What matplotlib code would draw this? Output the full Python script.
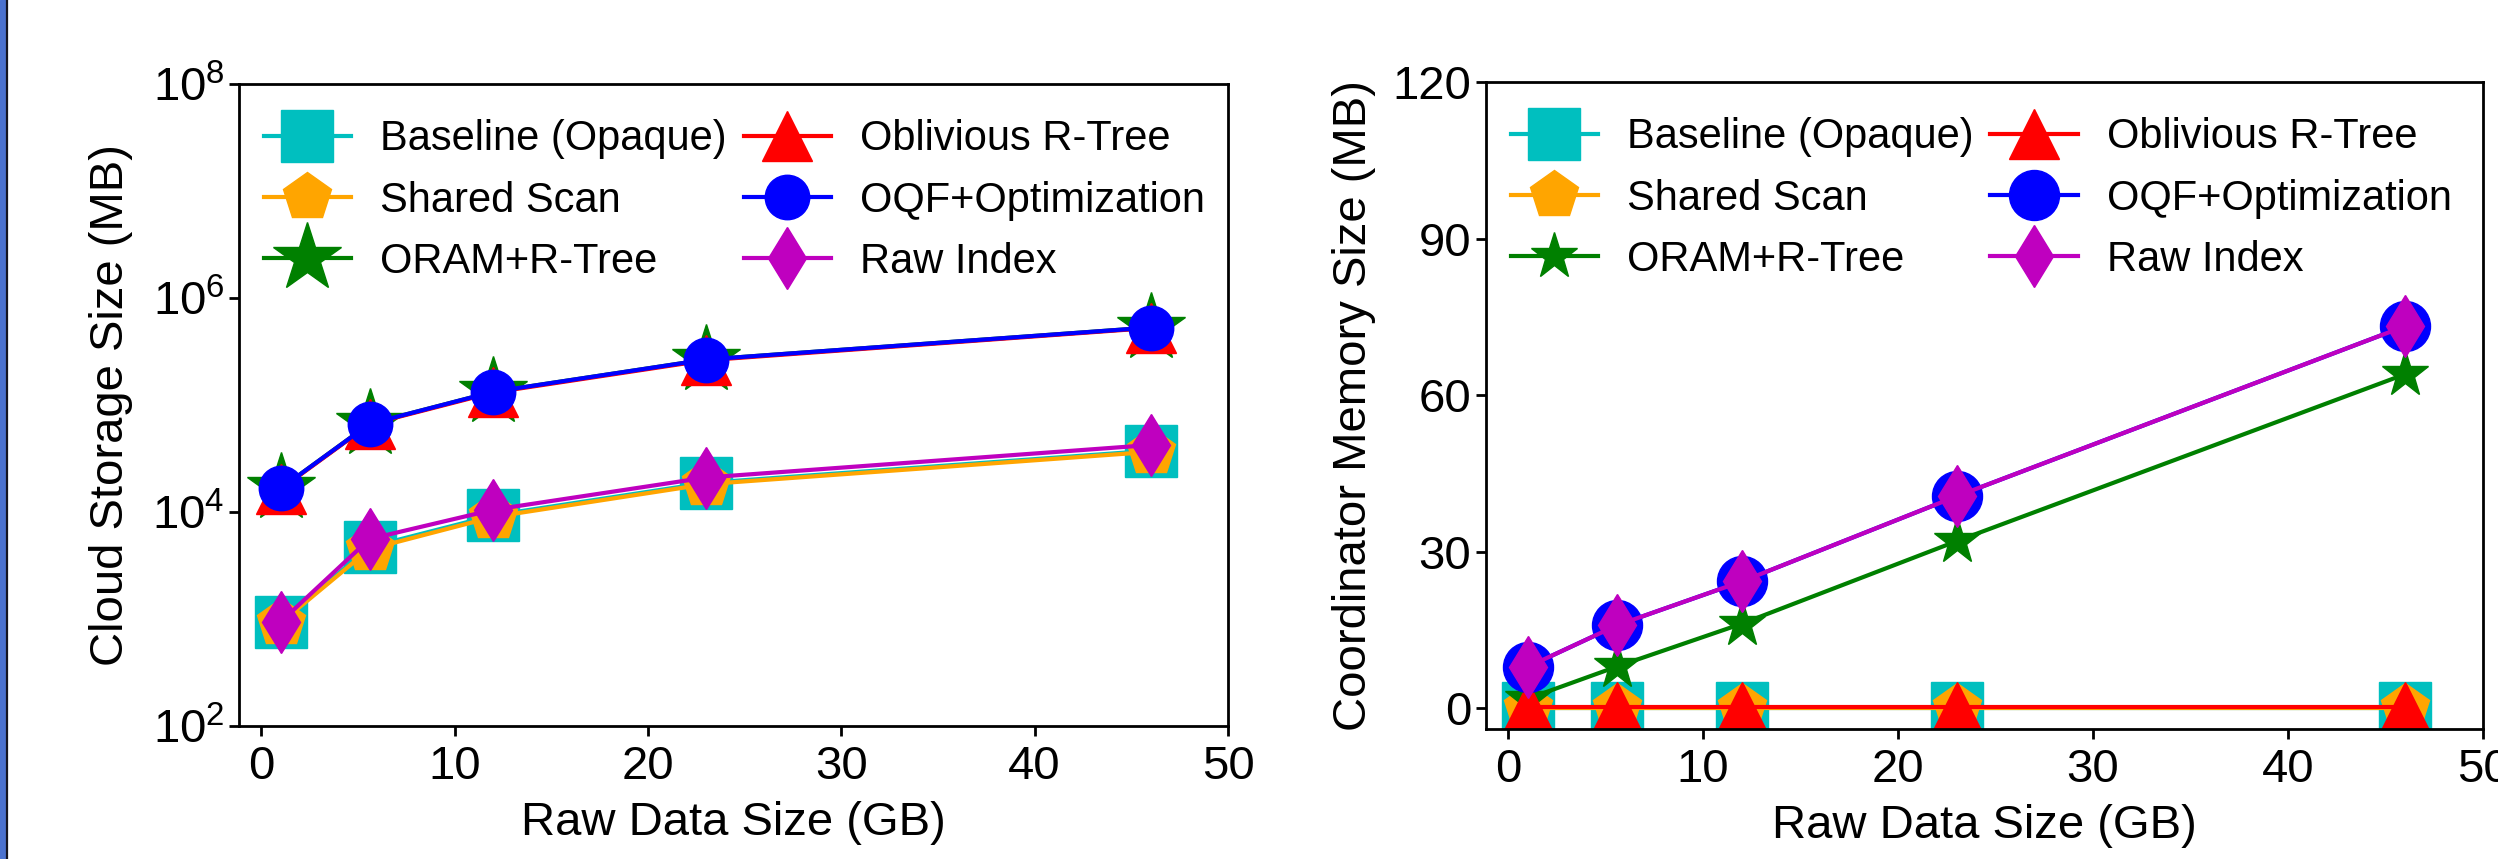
import matplotlib
matplotlib.use("Agg")
import matplotlib.pyplot as plt
from matplotlib.patches import Rectangle
from matplotlib.lines import Line2D

plt.rcParams['font.family'] = ['Liberation Sans', 'DejaVu Sans']
plt.rcParams['mathtext.default'] = 'regular'

# raw data size (GB)
data_size = [1, 5.6, 12, 23, 46]

# cloud storage size (MB), left panel
storage_baseline = [940, 4700, 9300, 18700, 37400]
storage_shared = [920, 4500, 9000, 18200, 36500]
storage_oram = [16600, 66700, 133000, 266000, 530000]
storage_oblivious = [16400, 66000, 131000, 262000, 525000]
storage_oqf = [16600, 66700, 133000, 266000, 530000]
storage_raw = [940, 5600, 10500, 21000, 42300]

# coordinator memory size (MB), right panel
memory_baseline = [0, 0, 0, 0, 0]
memory_shared = [0, 0, 0, 0, 0]
memory_oram = [1.8, 8.0, 16.2, 32.0, 64.0]
memory_oblivious = [0.2, 0.2, 0.2, 0.2, 0.2]
memory_oqf = [7.9, 15.9, 24.3, 40.6, 73.2]
memory_raw = [7.9, 15.9, 24.3, 40.6, 73.2]

labels = ['Baseline (Opaque)', 'Shared Scan', 'ORAM+R-Tree',
          'Oblivious R-Tree', 'OQF+Optimization', 'Raw Index']
colors = ['c', 'orange', 'g', 'r', 'b', 'm']
markers = ['s', 'p', '*', '^', 'o', 'd']

fig = plt.figure(figsize=(24.98, 8.59), dpi=100)

#blue strip on the left edge
fig.patches.append(Rectangle((0, 0), 6 / 2498, 1, transform=fig.transFigure,
                             color='#4b72cf', zorder=0))
fig.add_artist(Line2D([7 / 2498, 7 / 2498], [0, 1], transform=fig.transFigure,
                      color='#151520', lw=1.6))

ax1 = fig.add_axes([0.0957, 0.1548, 0.3959, 0.7474])
ax2 = fig.add_axes([0.5949, 0.1513, 0.3991, 0.7532])

left_sizes = [37, 36, 52, 36, 32, 32]
right_sizes = [37, 36, 35, 36, 36, 32]

left_data = [storage_baseline, storage_shared, storage_oram,
             storage_oblivious, storage_oqf, storage_raw]
right_data = [memory_baseline, memory_shared, memory_oram,
              memory_oblivious, memory_oqf, memory_raw]

for i in range(6):
    ax1.plot(data_size, left_data[i], color=colors[i], marker=markers[i],
             markersize=left_sizes[i], lw=3, label=labels[i])
    ax2.plot(data_size, right_data[i], color=colors[i], marker=markers[i],
             markersize=right_sizes[i], lw=3, label=labels[i])

ax1.set_yscale('log')
ax1.set_ylim(1e2, 1e8)
ax1.set_yticks([1e2, 1e4, 1e6, 1e8])
ax1.minorticks_off()
ax1.set_xlim(-1.15, 50)
ax1.set_ylabel('Cloud Storage Size (MB)', fontsize=34, labelpad=14)

ax2.set_xlim(-1.13, 50)
ax2.set_ylim(-4, 120)
ax2.set_yticks([0, 30, 60, 90, 120])
ax2.set_ylabel('Coordinator Memory Size (MB)', fontsize=34, labelpad=12)

for ax in [ax1, ax2]:
    ax.set_xticks([0, 10, 20, 30, 40, 50])
    ax.set_xlabel('Raw Data Size (GB)', fontsize=34, labelpad=8)
    ax.tick_params(labelsize=34, length=7, width=2, direction='out')
    ax.tick_params(axis='x', pad=7)
    for s in ax.spines.values():
        s.set_linewidth(2)
    ax.legend(loc='upper left', bbox_to_anchor=(-0.011, 1.0), ncol=2,
              frameon=False, fontsize=30,
              handlelength=2.1, handletextpad=0.7, columnspacing=0.4,
              labelspacing=0.51, borderaxespad=0.2, borderpad=0.65)

fig.savefig('out.png', dpi=100)
